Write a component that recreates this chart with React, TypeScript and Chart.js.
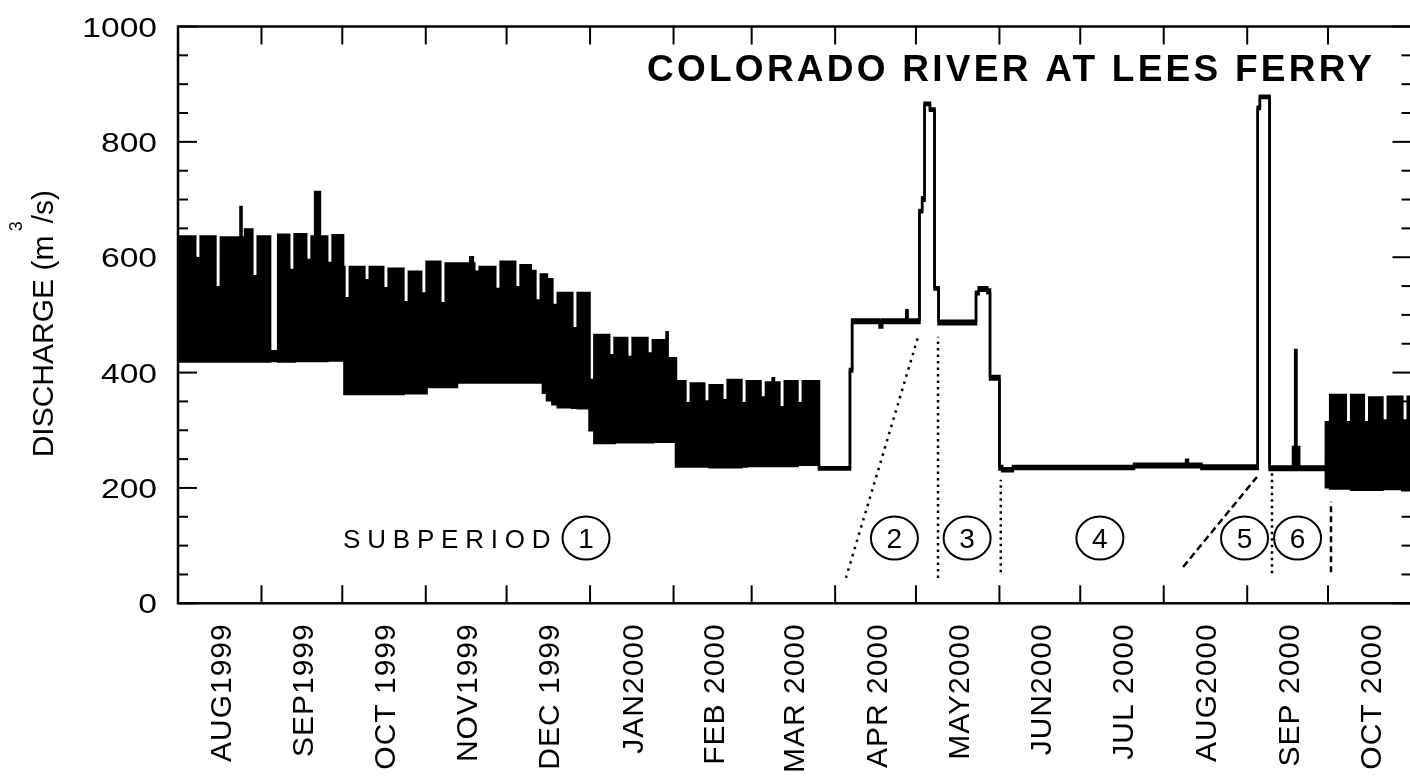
import React, { useEffect, useRef } from "react";
import { Chart, registerables } from "chart.js";

Chart.register(...registerables);

// Day 0 = 1 Aug 1999. Each row starts a run of daily high / daily low discharge (m³/s)
// that holds until the next row.
const flowDays = [
  0, 6.4, 8.4, 13.9, 15.9, 23.2, 23.6, 24.9, 27.6, 29.6, 34.2, 37.2, 41.3, 43.3, 47.6, 49.6,
  50.9, 52.7, 55.4, 57.4, 61.3, 61.8, 63.8,
  69.2, 71.2, 76.2, 78.2, 83.7, 85.7, 90.3, 92.3, 97.4, 99.4, 103.6, 108.5, 109.5, 110, 112,
  117.8, 119.8, 125.2, 127.2, 131, 132.7, 134.7, 135.5, 137, 139, 141, 146.4, 148.4, 152.8, 154.6,
  160.1, 162.1, 166.8, 168.8, 174.3, 176.3, 181.4, 181.8, 184.9,
  188.4, 190.4, 195.4, 197.4, 202.1, 204.1, 209.2, 211.2, 216.3, 218.3, 220.8, 221.3, 223.3,
  225.3, 230, 232, 238,
  249.5, 250.3, 260.5, 261.5, 270.4, 270.9, 275.3, 276.3, 277.2, 279.2, 280.9, 282.4,
  296.3, 297.3, 300.5, 301.5, 305, 306, 310, 355, 374.3, 375, 380,
  400.9, 401.7, 405.3, 414, 414.8, 415.3, 416.3,
  426.2, 427.8, 433.6, 435.6, 440.3, 442.3, 447.2, 449.2, 454.6, 456.6, 458,
];
const highFlow = [
  636, 598, 636, 548, 634, 687, 634, 648, 567, 636, 437, 639, 578, 640, 595, 636,
  713, 636, 590, 638, 583, 529, 583,
  560, 583, 546, 580, 522, 575, 537, 592, 520, 589, 589, 600, 589, 575, 583,
  545, 592, 548, 586, 576, 525, 570, 570, 562, 517, 538, 477, 538, 387, 465,
  430, 460, 427, 460, 433, 456, 470, 425, 385,
  347, 381, 350, 378, 352, 387, 347, 385, 357, 383, 390, 383, 340,
  385, 347, 385, 236,
  406, 492, 489, 492, 508, 492, 682, 704, 868, 858, 548, 490,
  540, 548, 544, 394, 238, 234, 238, 242, 249, 242, 239,
  861, 880, 237, 271, 439, 271, 237,
  314, 361, 314, 361, 314, 357, 317, 358, 317, 358, 358,
];
const lowFlow = [
  419, 419, 419, 419, 419, 419, 419, 419, 419, 419, 420, 419, 419, 420, 420, 420,
  420, 420, 421, 421, 421, 363, 363,
  363, 363, 363, 363, 364, 364, 364, 375, 375, 375, 383, 383, 383, 383, 383,
  383, 383, 383, 383, 383, 383, 383, 365, 352, 345, 340, 339, 338, 300, 278,
  278, 279, 279, 279, 279, 280, 280, 280, 237,
  237, 237, 237, 236, 236, 236, 237, 238, 238, 238, 238, 238, 238,
  238, 240, 240, 232,
  402, 486, 478, 486, 486, 486, 678, 698, 864, 854, 544, 484,
  536, 542, 538, 388, 232, 229, 233, 236, 236, 236, 233,
  857, 876, 231, 231, 231, 231, 231,
  201, 199, 199, 197, 197, 197, 198, 198, 196, 196, 196,
];

// Axis content
const monthStartDays = [0, 31, 61, 92, 122, 153, 184, 213, 244, 274, 305, 335, 366, 397, 427, 458];
const monthLabels = [
  "AUG1999", "SEP1999", "OCT 1999", "NOV1999", "DEC 1999", "JAN2000", "FEB 2000", "MAR 2000",
  "APR 2000", "MAY2000", "JUN2000", "JUL 2000", "AUG2000", "SEP 2000", "OCT 2000",
];
const flowTickValues = [0, 200, 400, 600, 800, 1000];
const flowMinorStep = 50;

// Subperiod markers (day, discharge level of the circled number)
const subperiodNames = ["1", "2", "3", "4", "5", "6"];
const subperiodDays = [151.5, 266, 293, 342.3, 396, 415.7];
const subperiodLevel = 113;

// Subperiod boundary guides, as endpoints in (day, discharge)
const guideStartDays = [248, 282.2, 305.5, 373.2, 406.2, 428.1];
const guideStartFlow = [44, 44, 54, 63, 52, 54];
const guideEndDays = [274.8, 282.2, 305.5, 400.6, 406.2, 428.1];
const guideEndFlow = [462, 462, 214, 219, 226, 176];

// Dash pattern for each guide (dotted or dashed)
const guideDashStyles = [[2.5, 5], [2.5, 4], [2.5, 4], [7, 4], [2.5, 4], [6, 4]];

const FONT = '"Liberation Sans", Arial, Helvetica, sans-serif';

const decorPlugin = {
  id: "decor",
  beforeDraw(chart: any) {
    const { ctx, width, height } = chart;
    ctx.save();
    ctx.fillStyle = "#fff";
    ctx.fillRect(0, 0, width, height);
    ctx.restore();
  },
  afterDraw(chart: any) {
    const { ctx, chartArea: a } = chart;
    const xs = chart.scales.x;
    const ys = chart.scales.y;
    const seg = (x1: number, y1: number, x2: number, y2: number) => {
      ctx.beginPath();
      ctx.moveTo(x1, y1);
      ctx.lineTo(x2, y2);
      ctx.stroke();
    };

    ctx.save();
    ctx.strokeStyle = "#000";
    ctx.fillStyle = "#000";
    ctx.lineCap = "butt";

    // frame
    ctx.lineWidth = 2.5;
    ctx.strokeRect(a.left, a.top, a.right - a.left, a.bottom - a.top);

    // discharge ticks on both sides, pointing inward
    ctx.lineWidth = 2;
    for (let v = 0; v <= 1000; v += flowMinorStep) {
      const py = ys.getPixelForValue(v);
      const len = flowTickValues.includes(v) ? 19 : 10;
      seg(a.left, py, a.left + len, py);
      seg(a.right - len, py, a.right, py);
    }
    // month ticks top and bottom
    monthStartDays.forEach((d) => {
      const px = xs.getPixelForValue(d);
      seg(px, a.bottom, px, a.bottom - 18);
      seg(px, a.top, px, a.top + 18);
    });

    // discharge labels
    ctx.font = `28px ${FONT}`;
    ctx.textAlign = "right";
    ctx.textBaseline = "alphabetic";
    flowTickValues.forEach((v) => {
      const py = ys.getPixelForValue(v);
      ctx.save();
      ctx.translate(a.left - 21, py + 10);
      ctx.scale(1.2, 1);
      ctx.fillText(String(v), 0, 0);
      ctx.restore();
    });

    // month labels, rotated
    ctx.font = `30px ${FONT}`;
    monthLabels.forEach((label, i) => {
      const mid = (monthStartDays[i] + monthStartDays[i + 1]) / 2;
      const px = xs.getPixelForValue(mid);
      ctx.save();
      ctx.translate(px + 11, a.bottom + 20);
      ctx.rotate(-Math.PI / 2);
      ctx.textAlign = "right";
      (ctx as any).letterSpacing = "1px";
      ctx.fillText(label, 0, 0);
      ctx.restore();
    });

    // axis title with superscript
    ctx.save();
    ctx.translate(a.left - 125, a.bottom - 146);
    ctx.rotate(-Math.PI / 2);
    ctx.textAlign = "left";
    ctx.font = `30px ${FONT}`;
    const main = "DISCHARGE (m ";
    ctx.fillText(main, 0, 0);
    const w1 = ctx.measureText(main).width;
    ctx.font = `18px ${FONT}`;
    ctx.fillText("3", w1 - 4, -31);
    const w3 = ctx.measureText("3").width;
    ctx.font = `30px ${FONT}`;
    ctx.fillText("/s)", w1 + w3 - 6, 0);
    ctx.restore();

    // chart title
    ctx.save();
    ctx.font = `bold 37px ${FONT}`;
    ctx.textAlign = "left";
    const title = "COLORADO RIVER AT LEES FERRY";
    const tw = ctx.measureText(title).width;
    const spacing = (725 - tw) / (title.length - 1);
    (ctx as any).letterSpacing = `${spacing}px`;
    ctx.fillText(title, a.left + 469, a.top + 54);
    ctx.restore();

    // subperiod annotations
    const cy = ys.getPixelForValue(subperiodLevel);
    ctx.lineWidth = 2;
    subperiodNames.forEach((name, i) => {
      const cx = xs.getPixelForValue(subperiodDays[i]);
      ctx.beginPath();
      ctx.ellipse(cx, cy, 23.5, 21.5, 0, 0, Math.PI * 2);
      ctx.stroke();
      ctx.font = `28px ${FONT}`;
      ctx.textAlign = "center";
      ctx.fillText(name, cx, cy + 10);
      if (i === 0) {
        ctx.save();
        ctx.font = `26px ${FONT}`;
        ctx.textAlign = "left";
        (ctx as any).letterSpacing = "6.8px";
        ctx.fillText("SUBPERIOD", cx - 243, cy + 10);
        ctx.restore();
      }
    });

    ctx.restore();
  },
};

export default function App() {
  const canvasRef = useRef<HTMLCanvasElement | null>(null);

  useEffect(() => {
    const canvas = canvasRef.current;
    if (!canvas) return;

    const highPoints = flowDays.map((d, i) => ({ x: d, y: highFlow[i] }));
    const lowPoints = flowDays.map((d, i) => ({ x: d, y: lowFlow[i] }));

    const guideSets = guideStartDays.map((d, i) => ({
      label: `boundary ${i + 1}`,
      data: [
        { x: d, y: guideStartFlow[i] },
        { x: guideEndDays[i], y: guideEndFlow[i] },
      ],
      borderColor: "#000",
      borderWidth: 2.5,
      borderDash: guideDashStyles[i],
      pointRadius: 0,
      fill: false,
    }));

    const chart = new Chart(canvas, {
      type: "line",
      data: {
        datasets: [
          {
            label: "Daily high",
            data: highPoints,
            stepped: true,
            borderColor: "#000",
            backgroundColor: "#000",
            borderWidth: 2.5,
            borderJoinStyle: "miter",
            pointRadius: 0,
            fill: { target: "+1" },
          },
          {
            label: "Daily low",
            data: lowPoints,
            stepped: true,
            borderColor: "#000",
            borderWidth: 2.5,
            borderJoinStyle: "miter",
            pointRadius: 0,
            fill: false,
          },
          ...guideSets,
        ] as any,
      },
      options: {
        responsive: false,
        animation: false,
        devicePixelRatio: 1,
        layout: { padding: { left: 178, top: 26.5, right: 0.5, bottom: 172.7 } },
        scales: {
          x: { type: "linear", min: 0, max: 458, display: false },
          y: { type: "linear", min: 0, max: 1000, display: false },
        },
        plugins: {
          legend: { display: false },
          tooltip: { enabled: false },
        },
        elements: { line: { tension: 0 } },
      },
      plugins: [decorPlugin],
    });

    return () => chart.destroy();
  }, []);

  return (
    <div
      style={{
        position: "fixed",
        left: 0,
        top: 0,
        width: 1410,
        height: 776,
        overflow: "hidden",
        background: "#fff",
      }}
    >
      <canvas ref={canvasRef} width={1412} height={776} style={{ display: "block" }} />
    </div>
  );
}
